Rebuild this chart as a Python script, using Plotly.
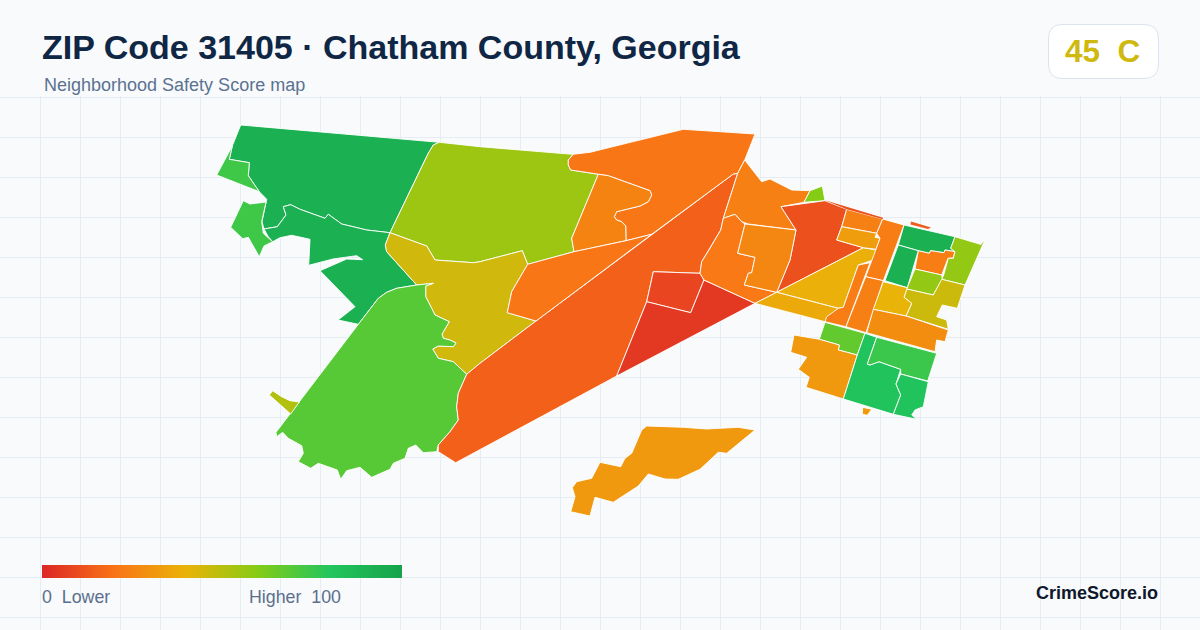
import plotly.graph_objects as go
from plotly.colors import sample_colorscale

TITLE = "ZIP Code 31405 · Chatham County, Georgia"
SUBTITLE = "Neighborhood Safety Score map"
BADGE = "45\u00a0\u00a0C"
LOW_LABEL = "0\u00a0\u00a0Lower"
HIGH_LABEL = "Higher\u00a0\u00a0100"
BRAND = "CrimeScore.io"

color_stops = [[0, "#dc2626"], [0.2, "#f97316"], [0.4, "#eab308"],
               [0.6, "#84cc16"], [0.8, "#22c55e"], [1, "#16a34a"]]

north_marsh = [(240.7,125),(439.3,142.3),(433.3,145),(428.3,153.3),(421.7,166.7),(390,232.7),(366.7,230),(341.7,224),(328.3,214.3),(325,218.3),(300,209.3),(290.7,204.7),(283.3,206.7),(286,215),(277.3,226.7),(264,229),(262,221.7),(266.7,199.3),(259.3,191.7),(248.3,175.7),(249.3,162.7),(229.3,159.3),(232.3,146)]
river_bend = [(390,232.7),(366.7,230),(341.7,224),(328.3,214.3),(325,218.3),(300,209.3),(290.7,204.7),(283.3,206.7),(286,215),(277.3,226.7),(264,229),(268.3,236.7),(272.7,241.7),(280,237.7),(291.7,235.3),(310,239.3),(308.7,265.3),(333,259),(356.7,255.7),(362.7,259.7),(346.7,259),(320,270.7),(355,306.7),(338,320),(358.3,324.3),(378.3,298.3),(386.7,292.3),(396.7,288.3),(416.7,285),(400,266.7),(386.7,251.7),(385.3,245)]
west_tip = [(232.3,146),(229.3,159.3),(249.3,162.7),(248.3,175.7),(259.3,191.7),(216.7,175)]
west_island = [(243.3,200.7),(250,204),(266,202),(261.7,221.7),(263.3,233.3),(272.7,241.7),(264,246),(259.3,256.7),(248.3,237.3),(242.7,238.7),(230.7,227.3)]
central_north = [(439.3,142.3),(480,146.7),(560,153.3),(573.3,154.3),(568.3,160),(568.3,165),(570.7,170),(598.3,174.3),(571.7,238.3),(574,251.7),(527.7,264.3),(522.3,250.7),(480,261.7),(473.3,262.7),(435,260),(426.7,246),(390,232.7),(421.7,166.7),(428.3,153.3),(433.3,145)]
central_mid = [(390,232.7),(426.7,246),(435,260),(473.3,262.7),(480,261.7),(522.3,250.7),(527.7,264.3),(511.7,291.7),(507.3,312.7),(536,321),(480,363.3),(466.7,374.3),(453.3,361.7),(438.3,358.3),(432.7,349),(438.3,346),(453.3,346.7),(456,343),(450,340),(443.3,338.3),(442,334),(447,326),(449.3,321.7),(435,315),(431.7,308.3),(425.7,296.7),(425.7,286),(433.3,283.3),(416.7,285),(400,266.7),(386.7,251.7),(385.3,245)]
southwest = [(358.3,324.3),(378.3,298.3),(386.7,292.3),(396.7,288.3),(416.7,285),(433.3,283.3),(425.7,286),(425.7,296.7),(431.7,308.3),(435,315),(449.3,321.7),(447,326),(442,334),(443.3,338.3),(450,340),(456,343),(453.3,346.7),(438.3,346),(432.7,349),(438.3,358.3),(453.3,361.7),(466.7,374.3),(458.3,393.3),(456.7,406.7),(458.3,420),(450,431.7),(438.3,445),(436.7,451.7),(423.3,452.7),(415.7,445),(408.3,448.3),(405,458.3),(393.3,463.3),(390,469.3),(371.7,477.3),(360,467.3),(346.7,470.7),(340.7,479.3),(337.3,470),(318.3,463.3),(310.7,468.3),(298.3,461.7),(303.3,453.3),(301.7,445.7),(288.3,438.3),(282.7,432.3),(276.7,436.7),(276,432.3)]
sliver = [(272.7,390.7),(269.3,395),(290.7,414),(299.3,402),(290,400.7),(281.7,396.7)]
diagonal = [(466.7,374.3),(480,363.3),(536,321),(651.7,234.3),(733.3,174),(737.7,173.3),(723.3,218.3),(720.7,230),(710,248.3),(701.7,261.7),(700,273.3),(653.3,271.7),(646.7,301.7),(616.7,376),(455.7,462.7),(438.3,451.7),(438.3,445),(450,431.7),(458.3,420),(456.7,406.7),(458.3,393.3)]
red_block = [(653.3,271.7),(700,273.3),(704,280),(690.7,312.7),(646.7,301.7)]
red_wedge = [(646.7,301.7),(690.7,312.7),(704,280),(755,303.3),(616.7,376)]
north_orange = [(573.3,154.3),(590,152.3),(683.3,129.3),(755,134),(745,159.3),(737.7,173.3),(733.3,174),(651.7,234.3),(626,240.7),(625.7,226),(621.7,221.7),(616.7,220),(614.3,216.7),(616.7,211.7),(640,206),(648.3,201.7),(651.7,195),(650,190.7),(608.3,175.7),(598.3,174.3),(570.7,170),(568.3,165),(568.3,160)]
inner_orange = [(598.3,174.3),(608.3,175.7),(650,190.7),(651.7,195),(648.3,201.7),(640,206),(616.7,211.7),(614.3,216.7),(616.7,220),(621.7,221.7),(625.7,226),(626,240.7),(574,251.7),(571.7,238.3)]
mid_orange = [(527.7,264.3),(574,251.7),(626,240.7),(651.7,234.3),(536,321),(507.3,312.7),(511.7,291.7)]
east_north = [(744.7,160),(761.7,181.7),(770,179),(791.7,190),(810,190.7),(804,202.3),(781,206.7),(796,230),(748.3,224),(741.7,221.7),(735,214.3),(723.3,218.3),(737.7,173.3)]
lime_tip = [(810,190.7),(822.3,186),(825,200.7),(804,202.3)]
east_red = [(781,206.7),(825,200.7),(846.7,209.3),(841.7,226.7),(836.7,240),(863.3,247.7),(776.7,292.3),(790,260),(796,230)]
east_west = [(723.3,218.3),(735,214.3),(741.7,221.7),(745,224),(737.7,253.3),(755,257.3),(751.7,272.7),(748.3,273.3),(744.3,285),(776.7,292.3),(755,303.3),(704,280),(700,273.3),(701.7,261.7),(710,248.3),(720.7,230)]
east_inner = [(745,224),(796,230),(790,260),(776.7,292.3),(744.3,285),(748.3,273.3),(751.7,272.7),(755,257.3),(737.7,253.3)]
gold_upper = [(776.7,292.3),(863.3,247.7),(876,250),(873.3,260),(858.3,265),(843.3,307.3),(838.3,308.3)]
gold_lower = [(755,303.3),(776.7,292.3),(838.3,308.3),(825,321.7)]
block_a = [(846.7,209.3),(882.7,219),(876.7,233.3),(841.7,226.7)]
block_b = [(841.7,226.7),(876.7,233.3),(875,237.3),(880,238.3),(876,249.3),(863.3,247.7),(836.7,240)]
column_a = [(882.7,219),(904,225),(883.3,280.7),(865.7,276.7),(876,249.3),(880,238.3),(876.7,233.3)]
strip_a = [(858.3,265),(870,262.7),(846,326.7),(825,321.7),(826.7,316.7),(838.3,308.3),(843.3,307.3)]
column_b = [(865.7,276.7),(883.3,280.7),(866,332.7),(846,326.7)]
green_top = [(904,225),(955,236.7),(950.7,248.3),(955,251.7),(945,250),(944,252.7),(930.7,250.7),(929.3,253.3),(918.3,250.7),(898.3,245)]
orange_inset = [(918.3,250.7),(929.3,253.3),(930.7,250.7),(944,252.7),(945,250),(955,251.7),(953.3,258),(948,258.3),(941.7,275),(915,269)]
green_col = [(898.3,245),(918.3,250.7),(907.3,287.7),(885,280.7)]
lime_east = [(955,236.7),(981,244.5),(983.3,240.7),(984,242),(965,285),(941.7,279.3),(943.7,275),(948.3,258.3),(953.3,258.3),(955,251.7),(950.7,248.3)]
lime_small = [(915,269),(941.7,275),(942.3,279.3),(933.3,295),(906.7,289)]
olive = [(906.7,289),(904,297.3),(911.7,303.3),(906,316),(948.3,329.3),(946.7,320),(936.7,316.7),(942.3,305),(957.3,308.3),(965,285),(941.7,279.3),(933.3,295)]
gold_block = [(883.3,281.7),(907.3,287.7),(904,297.3),(911.7,303.3),(906,316),(873.3,309.3)]
orange_row = [(873.3,309.3),(906,316),(948.3,330),(945,341.7),(936.7,340),(935,351.7),(866.7,332.7)]
green_lime = [(825,322.3),(865,333.3),(857.3,355),(838.3,350),(839.3,345),(819.3,339.3)]
amber_block = [(794,335),(819.3,339.3),(839.3,345),(838.3,350),(857.3,355),(843.3,399),(806,387.3),(809.3,377.3),(798.3,369.3),(806.7,357.3),(790.7,352.3)]
green_south = [(865,333.3),(876.7,337.3),(867.3,364),(870,365),(879,361.7),(900.7,369.3),(896,384),(900.7,395),(893.3,414.3),(843.3,399),(857.3,355)]
green_light = [(876.7,337.3),(936.7,353.3),(927.7,381),(900.7,374),(900.7,369.3),(879,361.7),(870,365),(867.3,364)]
green_corner = [(900.7,374),(928.3,381.7),(923.3,406.7),(915,410),(911.7,415),(916.7,419.3),(893.3,414.3),(900.7,395),(896,384)]
amber_dot = [(862.7,407.3),(871.7,409.3),(867.3,415.3),(862.3,414.3)]
coast_strip = [(911,221.5),(931,227.5),(928,229),(910.5,224.5)]
coast_red = [(825,200.3),(883,217.8),(882.7,219.2),(846.7,209.3)]
south_island = [(646.7,426),(683.3,427.3),(706.7,429),(738.3,427.3),(755,430),(726.7,453.3),(718.3,452.3),(700,469.3),(678.3,479.3),(665,479),(648.3,474),(638.3,486),(613.3,502.3),(595,497.3),(590,516),(570.7,511.7),(575,496.7),(572.3,487.7),(576.7,481.7),(591.7,478.3),(600,462.3),(620.7,466.7),(625,458.3),(631.7,453.3),(641.7,430)]

zones = [
    (north_marsh, 92), (river_bend, 92), (west_tip, 74), (west_island, 74),
    (central_north, 55), (central_mid, 45), (southwest, 69), (sliver, 51),
    (diagonal, 15), (red_block, 8), (red_wedge, 5), (north_orange, 21),
    (inner_orange, 25), (mid_orange, 21), (east_north, 24), (lime_tip, 60),
    (east_red, 11), (east_west, 22), (east_inner, 26), (gold_upper, 39),
    (gold_lower, 37), (block_a, 24), (block_b, 33), (column_a, 23),
    (strip_a, 23), (column_b, 24), (green_top, 92), (orange_inset, 23),
    (green_col, 92), (lime_east, 57), (lime_small, 57), (olive, 46),
    (gold_block, 40), (orange_row, 28), (green_lime, 67), (amber_block, 32),
    (green_south, 81), (green_light, 75), (green_corner, 81), (amber_dot, 32),
    (coast_strip, 14), (coast_red, 11), (south_island, 32),
]
unstroked = [coast_strip, coast_red]

fig = go.Figure()
for shape_pts, score in zones:
    xs = [p[0] for p in shape_pts] + [shape_pts[0][0]]
    ys = [p[1] for p in shape_pts] + [shape_pts[0][1]]
    fig.add_trace(go.Scatter(
        x=xs, y=ys, mode="lines", fill="toself",
        fillcolor=sample_colorscale(color_stops, score / 100)[0],
        line=dict(color="#ffffff", width=0 if shape_pts in unstroked else 0.9),
        showlegend=False, hoverinfo="text", text=f"Score {score}",
    ))

fig.add_trace(go.Scatter(
    x=[-50], y=[-50], mode="markers", showlegend=False, hoverinfo="skip",
    marker=dict(color=[0], cmin=0, cmax=100, colorscale=color_stops, showscale=True,
                colorbar=dict(orientation="h", thickness=13, thicknessmode="pixels",
                              len=360, lenmode="pixels", x=42/1200, xanchor="left",
                              y=1-565/630, yanchor="top", xpad=0, ypad=0,
                              outlinewidth=0, borderwidth=0, ticks="",
                              showticklabels=False)),
))

FONT = "Liberation Sans, Arial, sans-serif"
def label(x, y, text, size, color, anchor="left", bold=False):
    fig.add_annotation(x=x, y=y, xref="x", yref="y", text=f"<b>{text}</b>" if bold else text,
                       showarrow=False, xanchor=anchor, yanchor="middle",
                       xshift=0, yshift=0, borderpad=0,
                       font=dict(family=FONT, size=size, color=color))

label(41, 47, TITLE, 34, "#0f2744", bold=True)
label(43, 85, SUBTITLE, 18, "#5b7290")
label(1064, 51, BADGE, 31.5, "#cfb90f", bold=True)
label(41, 597, LOW_LABEL, 17.8, "#5b6f8c")
label(248, 597, HIGH_LABEL, 17.8, "#5b6f8c")
label(1159, 592.5, BRAND, 18, "#0f172a", anchor="right", bold=True)

fig.update_layout(
    width=1200, height=630, margin=dict(l=0, r=0, t=0, b=0),
    paper_bgcolor="#f8fafc", plot_bgcolor="#f8fafc",
    xaxis=dict(range=[0, 1200], tick0=0, dtick=40, showgrid=True, gridcolor="#e6ecf4", gridwidth=1,
               zeroline=False, showticklabels=False, ticks="", showline=False, fixedrange=True),
    yaxis=dict(range=[630, 0], tick0=17, dtick=40, showgrid=True, gridcolor="#e6ecf4", gridwidth=1,
               zeroline=False, showticklabels=False, ticks="", showline=False, fixedrange=True),
    shapes=[
        dict(type="rect", xref="x", yref="y", x0=0, x1=1200, y0=0, y1=96, layer="between",
             fillcolor="#f8fafc", line=dict(width=0)),
        dict(type="path", xref="x", yref="y", layer="between", fillcolor="#ffffff",
             line=dict(color="#dde3ee", width=1),
             path="M 1062 24.5 L 1144 24.5 Q 1158.5 24.5 1158.5 39 L 1158.5 64 Q 1158.5 78.5 1144 78.5 "
                  "L 1062 78.5 Q 1048.5 78.5 1048.5 64 L 1048.5 39 Q 1048.5 24.5 1062 24.5 Z"),
    ],
)

fig.write_html("out.html", config=dict(displayModeBar=False),
               post_script="document.body.style.margin='0';document.body.style.overflow='hidden';")
